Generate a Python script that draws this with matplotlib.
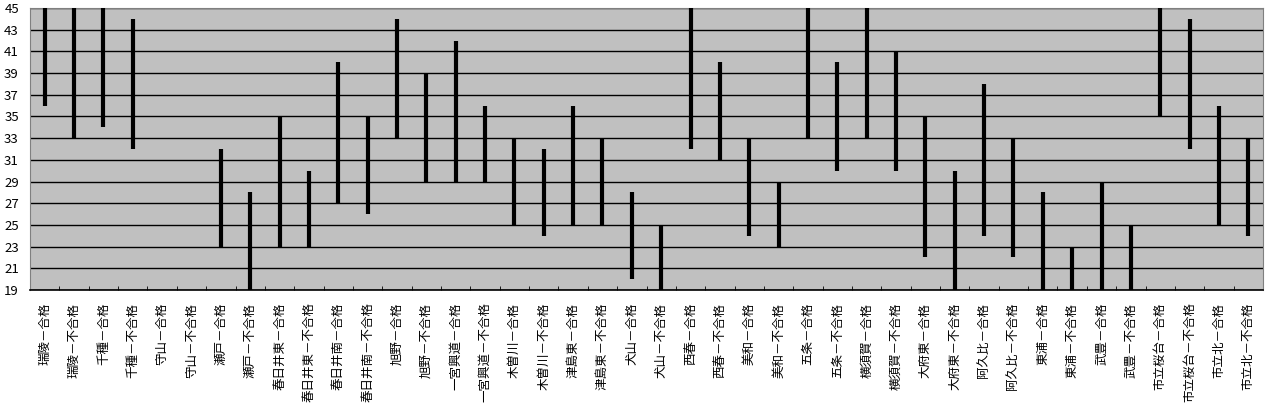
import matplotlib
matplotlib.use('Agg')
import matplotlib.pyplot as plt
import numpy as np

plt.rcParams['font.family'] = ['Noto Sans CJK JP', 'DejaVu Sans']

# 学校名（合格 / 不合格）
schools = ['瑞陵', '千種', '守山', '瀬戸', '春日井東', '春日井南', '旭野',
           '一宮興道', '木曽川', '津島東', '犬山', '西春', '美和', '五条',
           '横須賀', '大府東', '阿久比', '東浦', '武豊', '市立桜台', '市立北']
labels = []
for s in schools:
    labels.append(s + '－合格')
    labels.append(s + '－不合格')

# 上限・下限 (None = データなし)
high = [45, 45, 45, 44, None, None, 32, 28, 35, 30, 40, 35, 44, 39,
        42, 36, 33, 32, 36, 33, 28, 25, 45, 40, 33, 29, 45, 40,
        45, 41, 35, 30, 38, 33, 28, 23, 29, 25, 45, 44, 36, 33]
low = [36, 33, 34, 32, None, None, 23, 19, 23, 23, 27, 26, 33, 29,
       29, 29, 25, 24, 25, 25, 20, 19, 32, 31, 24, 23, 33, 30,
       33, 30, 22, 19, 24, 22, 19, 19, 19, 19, 35, 32, 25, 24]

fig = plt.figure(figsize=(12.69, 4.16), dpi=100)
ax = fig.add_axes([30 / 1269, 126 / 416, 1233 / 1269, 282 / 416])
ax.set_facecolor('#c0c0c0')

x = np.arange(len(labels))
for i in x:
    if high[i] is None:
        continue
    ax.vlines(i, low[i], high[i], color='black', lw=3, zorder=3)

ax.set_xlim(-0.5, len(labels) - 0.5)
ax.set_ylim(19, 45)
ax.set_yticks(np.arange(19, 46, 2))
ax.yaxis.grid(True, color='black', lw=1)
ax.set_axisbelow(True)

ax.set_xticks(x)
ax.set_xticklabels(labels, rotation=90, fontsize=9, va='top')
ax.set_xticks(np.arange(0.5, len(labels) - 1, 1), minor=True)
ax.tick_params(axis='x', which='major', length=0, pad=9)
ax.tick_params(axis='x', which='minor', direction='in', length=3, color='black')
ax.tick_params(axis='y', length=0, labelsize=9.5, pad=8)

for side in ['top', 'right', 'left']:
    ax.spines[side].set_color('#808080')
ax.spines['bottom'].set_color('black')
ax.spines['bottom'].set_linewidth(1.2)

fig.savefig('out.png', dpi=100)
